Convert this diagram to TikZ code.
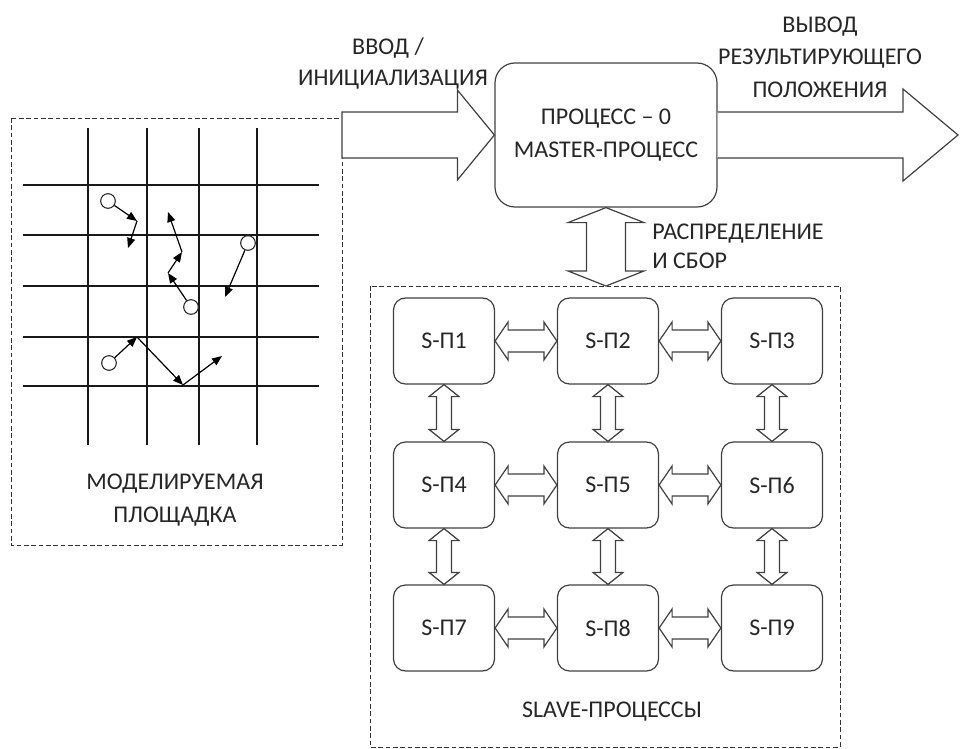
\documentclass[tikz,border=0pt]{standalone}
\usepackage{fontspec}
\setmainfont{Carlito}
\usetikzlibrary{arrows.meta,calc}

\tikzset{
  lbl/.style={font=\fontsize{18}{24}\selectfont, text=black!85, inner sep=0pt, align=center},
  proc/.style={draw=black!75, line width=0.9pt, rounded corners=9pt, minimum width=75.75pt, minimum height=64.5pt, lbl},
  frame/.style={draw=black!80, dash pattern=on 3.5pt off 2pt, line width=0.7pt},
  gridline/.style={draw=black!90, line width=1pt},
  walk/.style={draw=black, line width=0.9pt, -{Triangle[length=7.5pt,width=6pt]}},
  particle/.style={circle, draw=black!85, line width=0.8pt, fill=white, minimum size=11pt, inner sep=0pt},
  blockarr/.style={draw=black!75, line width=0.9pt, fill=white, line join=miter},
}

% hollow two-headed arrows between neighbouring processes
\newcommand{\hlink}[2]{%
  \draw[blockarr] (#1.east) -- ($(#1.east)+(13,-19)$) -- ($(#1.east)+(13,-11)$)
    -- ($(#2.west)+(-13,-11)$) -- ($(#2.west)+(-13,-19)$) -- (#2.west)
    -- ($(#2.west)+(-13,19)$) -- ($(#2.west)+(-13,11)$)
    -- ($(#1.east)+(13,11)$) -- ($(#1.east)+(13,19)$) -- cycle;}
\newcommand{\vlink}[2]{%
  \draw[blockarr] (#1.south) -- ($(#1.south)+(15,12)$) -- ($(#1.south)+(7.5,12)$)
    -- ($(#2.north)+(7.5,-12)$) -- ($(#2.north)+(15,-12)$) -- (#2.north)
    -- ($(#2.north)+(-15,-12)$) -- ($(#2.north)+(-7.5,-12)$)
    -- ($(#1.south)+(-7.5,12)$) -- ($(#1.south)+(-15,12)$) -- cycle;}

\begin{document}
\begin{tikzpicture}[x=0.75pt, y=-0.75pt]
  \useasboundingbox (0,0) rectangle (960,749);

  %% modelled area
  \draw[frame] (11,118) rectangle (342,545);
  \foreach \gx in {88,147,199,257}
    \draw[gridline] (\gx,128) -- (\gx,445);
  \foreach \gy in {185,235,286,337,386}
    \draw[gridline] (23,\gy) -- (319,\gy);
  \node[lbl, font=\fontsize{18}{24.75}\selectfont] (fieldlbl) at (175,500) {МОДЕЛИРУЕМАЯ\\ПЛОЩАДКА};

  % particles and their walks
  \node[particle] (p1) at (108,201) {};
  \node[particle] (p2) at (248,243) {};
  \node[particle] (p3) at (191,307) {};
  \node[particle] (p4) at (109,363) {};
  \coordinate (a1) at (137,221);
  \coordinate (a2) at (128,248);
  \coordinate (b1) at (168,273);
  \coordinate (b2) at (182,252);
  \coordinate (b3) at (168,212);
  \coordinate (c1) at (225,297);
  \coordinate (d1) at (137,337);
  \coordinate (d2) at (183,385);
  \coordinate (d3) at (222,356);
  \draw[walk] (p1) -- (a1);
  \draw[walk] (a1) -- (a2);
  \draw[walk] (p3) -- (b1);
  \draw[walk] (b1) -- (b2);
  \draw[walk] (b2) -- (b3);
  \draw[walk] (p2) -- (c1);
  \draw[walk] (p4) -- (d1);
  \draw[walk] (d1) -- (d2);
  \draw[walk] (d2) -- (d3);

  %% master process
  \node[lbl, draw=black!75, line width=0.9pt, rounded corners=15pt,
        minimum width=166.5pt, minimum height=108pt, font=\fontsize{18}{24.75}\selectfont]
    (master) at (606,135) {ПРОЦЕСС -- 0\\MASTER-ПРОЦЕСС};

  \coordinate (inlet) at (342,135);
  \coordinate (outlet) at (958,135);
  \draw[blockarr] ($(inlet)+(0,-23)$) -- ($(master.west)+(-37,-23)$) -- ($(master.west)+(-37,-45)$)
    -- (master.west) -- ($(master.west)+(-37,45)$) -- ($(master.west)+(-37,23)$)
    -- ($(inlet)+(0,23)$) -- cycle;
  \draw[blockarr] ($(master.east)+(0,-23)$) -- ($(outlet)+(-55,-23)$) -- ($(outlet)+(-55,-46)$)
    -- (outlet) -- ($(outlet)+(-55,46)$) -- ($(outlet)+(-55,23)$) -- ($(master.east)+(0,23)$);

  \node[lbl] (inlbl) at (388,48) {ВВОД /};
  \node[lbl] (inlbl2) at (393,80) {ИНИЦИАЛИЗАЦИЯ};
  \node[lbl, font=\fontsize{18}{24.5}\selectfont] (outlbl) at (820,57) {ВЫВОД\\РЕЗУЛЬТИРУЮЩЕГО\\ПОЛОЖЕНИЯ};

  %% slave processes
  \draw[frame] (370,286) rectangle (840,747);
  \coordinate (slavetop) at (606,286);
  \draw[blockarr] (master.south) -- ($(master.south)+(38,15)$) -- ($(master.south)+(19.5,15)$)
    -- ($(slavetop)+(19.5,-15)$) -- ($(slavetop)+(38,-15)$) -- (slavetop)
    -- ($(slavetop)+(-38,-15)$) -- ($(slavetop)+(-19.5,-15)$)
    -- ($(master.south)+(-19.5,15)$) -- ($(master.south)+(-38,15)$) -- cycle;
  \node[lbl, anchor=west, align=left, font=\fontsize{18}{22}\selectfont] (distlbl) at (652,246) {РАСПРЕДЕЛЕНИЕ\\И СБОР};

  \node[proc] (s1) at (444,341) {S-П1};
  \node[proc] (s2) at (608,341) {S-П2};
  \node[proc] (s3) at (772,341) {S-П3};
  \node[proc] (s4) at (444,485) {S-П4};
  \node[proc] (s5) at (608,485) {S-П5};
  \node[proc] (s6) at (772,485) {S-П6};
  \node[proc] (s7) at (444,628) {S-П7};
  \node[proc] (s8) at (608,628) {S-П8};
  \node[proc] (s9) at (772,628) {S-П9};

  \hlink{s1}{s2} \hlink{s2}{s3}
  \hlink{s4}{s5} \hlink{s5}{s6}
  \hlink{s7}{s8} \hlink{s8}{s9}
  \vlink{s1}{s4} \vlink{s2}{s5} \vlink{s3}{s6}
  \vlink{s4}{s7} \vlink{s5}{s8} \vlink{s6}{s9}

  \node[lbl] (slavelbl) at (612,712) {SLAVE-ПРОЦЕССЫ};
\end{tikzpicture}
\end{document}
